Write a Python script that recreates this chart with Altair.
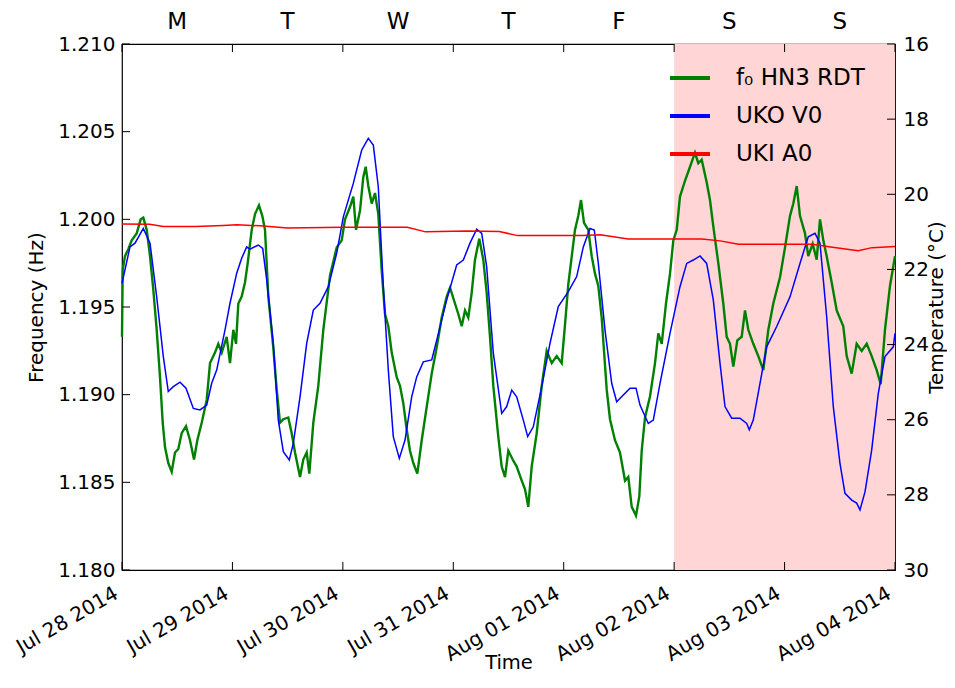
import altair as alt
import pandas as pd

BASE = pd.Timestamp("2014-07-28 00:00:00")

# f0 HN3 RDT (frequency, Hz) - hours since Jul 28 2014 00:00
GREEN_HOURS = [0.00, 0.15, 0.65, 1.37, 2.11, 3.19, 4.06, 4.63, 5.37, 6.09, 6.80, 7.54, 8.26, 8.85, 9.35,
               10.06, 10.80, 11.52, 12.24, 12.97, 13.91, 14.78, 15.65, 16.37, 17.32, 18.41, 19.13, 20.21,
               20.93, 21.67, 22.75, 23.47, 24.19, 24.78, 25.28, 26.01, 26.73, 27.32, 28.19, 28.91, 29.77,
               30.49, 31.08, 31.80, 32.88, 33.62, 34.34, 35.06, 36.14, 36.88, 37.60, 38.69, 39.40, 40.14,
               40.71, 41.58, 42.66, 43.75, 45.21, 46.66, 47.75, 48.47, 49.55, 50.27, 50.86, 51.73, 52.44,
               52.96, 53.53, 54.27, 54.99, 55.70, 56.44, 57.16, 57.88, 58.62, 59.70, 60.42, 61.14, 61.88,
               62.59, 63.31, 64.18, 65.14, 66.22, 67.31, 68.40, 69.48, 70.57, 71.29, 72.37, 73.09, 73.83,
               74.55, 75.26, 76.00, 76.72, 77.65, 78.52, 79.26, 79.98, 80.70, 81.78, 82.52, 83.24, 83.96,
               84.91, 85.78, 86.87, 87.59, 88.30, 89.04, 90.13, 91.22, 92.30, 93.39, 94.48, 95.56, 96.28,
               97.00, 97.80, 98.45, 99.17, 99.76, 100.41, 101.34, 102.08, 102.80, 103.52, 104.25, 105.34,
               106.06, 107.14, 108.23, 109.32, 110.04, 110.78, 111.71, 112.43, 112.95, 113.67, 114.75,
               115.84, 116.56, 117.30, 118.23, 119.10, 119.82, 120.56, 121.27, 122.36, 123.45, 124.53,
               125.25, 125.99, 127.08, 127.79, 128.51, 129.60, 130.68, 131.42, 132.14, 132.86, 133.73,
               134.68, 135.40, 136.12, 137.20, 138.29, 139.38, 140.47, 141.55, 143.01, 144.10, 145.18,
               145.90, 146.64, 147.35, 148.44, 149.15, 150.11, 150.98, 151.70, 152.42, 153.15, 154.24,
               155.33, 156.76, 157.50, 158.59, 159.67, 160.76, 161.85, 162.93, 164.02, 164.89, 165.82,
               166.91, 168.00]
GREEN_FREQ = [1.1933, 1.1971, 1.1979, 1.1983, 1.1988, 1.1992, 1.2000, 1.2001, 1.1994, 1.1979, 1.1960,
              1.1937, 1.1910, 1.1884, 1.1870, 1.1861, 1.1856, 1.1867, 1.1869, 1.1878, 1.1882, 1.1874,
              1.1863, 1.1874, 1.1884, 1.1897, 1.1918, 1.1924, 1.1929, 1.1924, 1.1933, 1.1918, 1.1937,
              1.1929, 1.1952, 1.1956, 1.1964, 1.1975, 1.1994, 1.2003, 1.2008, 1.2002, 1.1994, 1.1956,
              1.1927, 1.1903, 1.1884, 1.1886, 1.1887, 1.1878, 1.1867, 1.1853, 1.1863, 1.1867, 1.1855,
              1.1884, 1.1905, 1.1937, 1.1968, 1.1984, 1.1988, 1.2000, 1.2007, 1.2013, 1.1994, 1.2005,
              1.2024, 1.2030, 1.2019, 1.2009, 1.2015, 1.2003, 1.1971, 1.1946, 1.1939, 1.1924, 1.1910,
              1.1905, 1.1895, 1.1880, 1.1868, 1.1861, 1.1855, 1.1874, 1.1893, 1.1912, 1.1927, 1.1944,
              1.1956, 1.1961, 1.1952, 1.1946, 1.1939, 1.1948, 1.1944, 1.1958, 1.1977, 1.1989, 1.1977,
              1.1958, 1.1933, 1.1905, 1.1876, 1.1859, 1.1853, 1.1868, 1.1863, 1.1859, 1.1851, 1.1846,
              1.1836, 1.1859, 1.1878, 1.1905, 1.1925, 1.1918, 1.1922, 1.1918, 1.1940, 1.1963, 1.1980,
              1.1994, 1.2002, 1.2011, 1.1998, 1.1994, 1.1979, 1.1969, 1.1962, 1.1944, 1.1903, 1.1886,
              1.1874, 1.1867, 1.1851, 1.1853, 1.1836, 1.1831, 1.1842, 1.1868, 1.1887, 1.1899, 1.1918,
              1.1935, 1.1929, 1.1952, 1.1969, 1.1988, 1.1994, 1.2013, 1.2022, 1.2030, 1.2038, 1.2032,
              1.2034, 1.2021, 1.2011, 1.1996, 1.1975, 1.1952, 1.1933, 1.1929, 1.1916, 1.1931, 1.1933,
              1.1948, 1.1937, 1.1929, 1.1922, 1.1914, 1.1937, 1.1952, 1.1967, 1.1984, 1.2002, 1.2009,
              1.2019, 1.2002, 1.1992, 1.1979, 1.1986, 1.1977, 1.2000, 1.1988, 1.1979, 1.1964, 1.1948,
              1.1939, 1.1922, 1.1912, 1.1929, 1.1925, 1.1929, 1.1922, 1.1914, 1.1906, 1.1937, 1.1962,
              1.1979]

# UKO V0 (temperature, deg C)
BLUE_HOURS = [0.00, 1.74, 2.83, 4.63, 6.09, 7.54, 8.98, 10.06, 11.15, 12.61, 13.91, 15.50, 16.95, 18.41,
              19.49, 20.58, 22.39, 23.47, 24.93, 26.01, 27.10, 27.82, 29.62, 30.58, 31.45, 32.88, 33.97,
              35.06, 36.36, 37.23, 38.69, 40.14, 41.58, 43.03, 44.84, 46.66, 48.10, 50.27, 52.10, 53.53,
              54.62, 55.70, 56.79, 57.88, 58.96, 60.27, 61.51, 62.96, 64.05, 65.48, 67.31, 68.40, 70.57,
              72.74, 74.18, 75.63, 77.09, 78.18, 79.26, 80.70, 82.52, 83.61, 84.70, 85.78, 87.22, 88.17,
              89.39, 91.22, 93.02, 94.82, 97.00, 98.82, 100.26, 101.71, 102.65, 103.52, 104.97, 106.43,
              107.51, 108.95, 110.41, 111.71, 112.58, 114.38, 115.47, 116.93, 119.10, 121.27, 122.73,
              124.16, 125.62, 127.07, 128.51, 129.97, 131.05, 132.51, 134.31, 135.77, 136.33, 137.20,
              138.66, 140.11, 142.29, 145.18, 147.35, 149.15, 150.61, 151.70, 153.15, 154.59, 156.04,
              157.13, 158.59, 159.67, 160.39, 161.48, 162.93, 164.37, 165.82, 167.63, 168.00]
BLUE_TEMP = [22.37, 21.40, 21.30, 20.91, 21.30, 22.73, 24.32, 25.25, 25.12, 25.00, 25.16, 25.70, 25.74,
             25.61, 25.03, 24.68, 23.61, 22.90, 22.10, 21.70, 21.40, 21.46, 21.35, 21.44, 22.28, 23.97,
             26.01, 26.85, 27.07, 26.63, 25.39, 23.97, 23.08, 22.90, 22.46, 21.57, 20.60, 19.71, 18.82,
             18.51, 18.69, 19.80, 22.46, 24.68, 26.45, 27.03, 26.54, 25.39, 24.86, 24.46, 24.41, 23.88,
             22.81, 21.88, 21.75, 21.30, 20.93, 21.04, 21.93, 24.23, 25.83, 25.65, 25.21, 25.39, 26.01,
             26.45, 26.19, 25.12, 23.97, 22.99, 22.59, 22.19, 21.40, 20.91, 20.95, 21.84, 23.61, 25.03,
             25.52, 25.34, 25.16, 25.16, 25.61, 26.10, 26.01, 25.03, 23.70, 22.46, 21.84, 21.75, 21.64,
             21.84, 22.81, 24.50, 25.65, 25.96, 25.96, 26.10, 26.27, 26.01, 25.03, 24.06, 23.52, 22.73,
             21.84, 21.13, 21.04, 21.30, 23.26, 25.65, 27.16, 27.96, 28.14, 28.22, 28.40, 27.92, 26.81,
             25.30, 24.32, 24.06, 23.70]

# UKI A0 (temperature, deg C)
RED_HOURS = [0, 6, 9, 16, 22, 25, 30, 36, 48, 62, 66, 75, 82, 86, 100, 104, 110, 126, 130, 134, 150,
             154, 160, 163, 168]
RED_TEMP = [20.79, 20.80, 20.86, 20.86, 20.83, 20.81, 20.84, 20.90, 20.88, 20.88, 21.00, 20.98, 20.99,
            21.10, 21.10, 21.08, 21.19, 21.19, 21.24, 21.33, 21.33, 21.40, 21.50, 21.42, 21.39]

SERIES = ["f\u2080 HN3 RDT", "UKO V0", "UKI A0"]
COLORS = ["#008000", "#0000ff", "#ff0000"]

DAY_TICKS = [(2014, 7, 28), (2014, 7, 29), (2014, 7, 30), (2014, 7, 31), (2014, 8, 1), (2014, 8, 2),
             (2014, 8, 3), (2014, 8, 4)]
DAY_LETTERS = ["M", "T", "W", "T", "F", "S", "S"]
WEEKEND = [(2014, 8, 2), (2014, 8, 4)]
FREQ_TICKS = [1.180, 1.185, 1.190, 1.195, 1.200, 1.205, 1.210]
TEMP_TICKS = [16, 18, 20, 22, 24, 26, 28, 30]

FONT = "DejaVu Sans"
W, H = 773, 526


def to_time(hours):
    return [(BASE + pd.Timedelta(hours=h)).strftime("%Y-%m-%dT%H:%M:%S") for h in hours]


def iso(d):
    return pd.Timestamp(year=d[0], month=d[1], day=d[2]).strftime("%Y-%m-%dT%H:%M:%S")


green_df = pd.DataFrame({"time": to_time(GREEN_HOURS), "freq": GREEN_FREQ, "series": SERIES[0]})
temp_df = pd.concat([
    pd.DataFrame({"time": to_time(BLUE_HOURS), "temp": BLUE_TEMP, "series": SERIES[1], "order": 1}),
    pd.DataFrame({"time": to_time(RED_HOURS), "temp": RED_TEMP, "series": SERIES[2], "order": 2}),
])
weekend_df = pd.DataFrame({"start": [iso(WEEKEND[0])], "end": [iso(WEEKEND[1])]})
days_df = pd.DataFrame({"time": [iso(d) for d in DAY_TICKS]})
letters_df = pd.DataFrame({
    "time": [(pd.Timestamp(iso(DAY_TICKS[i])) + pd.Timedelta(hours=12)).strftime("%Y-%m-%dT%H:%M:%S")
             for i in range(len(DAY_LETTERS))],
    "letter": DAY_LETTERS,
})
freq_ticks_df = pd.DataFrame({"freq": FREQ_TICKS})
temp_ticks_df = pd.DataFrame({"temp": TEMP_TICKS})

x_domain = [alt.DateTime(year=DAY_TICKS[0][0], month=DAY_TICKS[0][1], date=DAY_TICKS[0][2]),
            alt.DateTime(year=DAY_TICKS[-1][0], month=DAY_TICKS[-1][1], date=DAY_TICKS[-1][2])]
x_scale = alt.Scale(domain=x_domain)
x_axis = alt.Axis(
    values=[alt.DateTime(year=y, month=m, date=d) for (y, m, d) in DAY_TICKS],
    format="%b %d %Y", labelAngle=330, labelAlign="right", labelBaseline="top",
    labelPadding=13, labelOffset=-11, labelOverlap=False, labelFlush=False,
    ticks=False, grid=False, domain=False,
    title="Time", titleY=98, titleBaseline="alphabetic", titleFontSize=19.5,
)

freq_scale = alt.Scale(domain=[1.180, 1.210], nice=False, zero=False)
temp_scale = alt.Scale(domain=[16, 30], reverse=True, nice=False, zero=False)

color_scale = alt.Scale(domain=SERIES, range=COLORS)
legend = alt.Legend(
    title=None, orient="none", legendX=546, legendY=12,
    symbolType="stroke", symbolSize=1600, symbolStrokeWidth=4,
    labelFontSize=23, labelFont=FONT, labelColor="black", labelOffset=24,
    rowPadding=4, padding=0,
)

weekend = alt.Chart(weekend_df).mark_rect(color="#ffd5d5").encode(
    x=alt.X("start:T", scale=x_scale, axis=x_axis),
    x2="end:T",
)

green = alt.Chart(green_df).mark_line(strokeWidth=2.4).encode(
    x=alt.X("time:T", scale=x_scale, axis=x_axis),
    y=alt.Y("freq:Q", scale=freq_scale,
            axis=alt.Axis(orient="left", values=FREQ_TICKS, format=".3f", ticks=False, grid=False,
                          domain=False, labelPadding=7, title="Frequency (Hz)", titleAngle=270,
                          titleX=-86, titleY=H / 2, titleAlign="center", titleBaseline="middle")),
    color=alt.Color("series:N", scale=color_scale, legend=legend),
)

temps = alt.Chart(temp_df).mark_line(strokeWidth=1.5).encode(
    x=alt.X("time:T", scale=x_scale, axis=x_axis),
    y=alt.Y("temp:Q", scale=temp_scale,
            axis=alt.Axis(orient="right", values=TEMP_TICKS, ticks=False, grid=False, domain=False,
                          labelPadding=8, title="Temperature (\u00b0C)", titleAngle=270,
                          titleX=41, titleY=H / 2, titleAlign="center", titleBaseline="middle")),
    color=alt.Color("series:N", scale=color_scale, legend=legend),
    detail="series:N",
    order="order:Q",
)

letters = alt.Chart(letters_df).mark_text(fontSize=23, font=FONT, color="black",
                                          baseline="alphabetic", align="center").encode(
    x=alt.X("time:T", scale=x_scale, axis=x_axis),
    y=alt.value(-15),
    text="letter:N",
)

tick_style = dict(color="black", strokeWidth=1)
bottom_ticks = alt.Chart(days_df).mark_rule(**tick_style).encode(
    x=alt.X("time:T", scale=x_scale, axis=x_axis), y=alt.value(H), y2=alt.value(H - 8))
top_ticks = alt.Chart(days_df).mark_rule(**tick_style).encode(
    x=alt.X("time:T", scale=x_scale, axis=x_axis), y=alt.value(0), y2=alt.value(8))
left_ticks = alt.Chart(freq_ticks_df).mark_rule(**tick_style).encode(
    y=alt.Y("freq:Q", scale=freq_scale, axis=None), x=alt.value(0), x2=alt.value(8))
right_ticks = alt.Chart(temp_ticks_df).mark_rule(**tick_style).encode(
    y=alt.Y("temp:Q", scale=temp_scale, axis=None), x=alt.value(W), x2=alt.value(W - 8))

chart = alt.layer(
    weekend, green, temps, letters, bottom_ticks, top_ticks, left_ticks, right_ticks
).resolve_scale(
    y="independent"
).properties(
    width=W, height=H,
    autosize=alt.AutoSizeParams(type="none"),
    padding={"left": 114, "top": 36, "right": 52, "bottom": 102},
    background="white",
).configure_view(
    stroke="black", strokeWidth=1.2
).configure_axis(
    labelFont=FONT, titleFont=FONT, labelFontSize=20, titleFontSize=20,
    labelColor="black", titleColor="black", titleFontWeight="normal",
).configure_legend(
    labelFont=FONT,
)

chart.save("out.html", embed_options={"renderer": "svg", "actions": False})
